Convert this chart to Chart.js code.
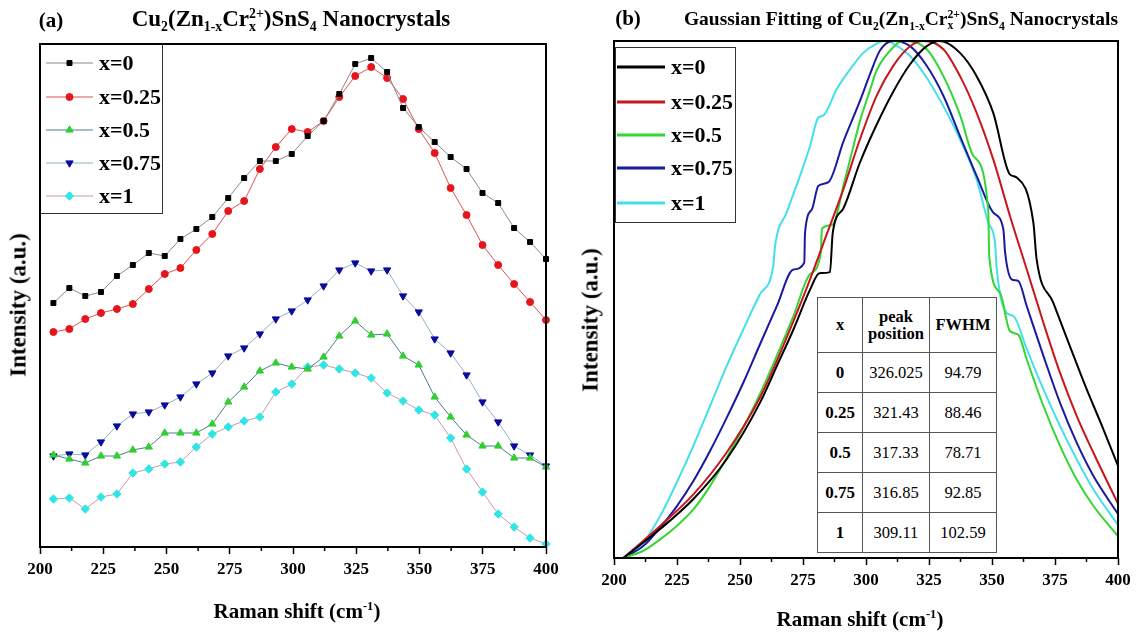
<!DOCTYPE html>
<html>
<head>
<meta charset="utf-8">
<script src="https://cdn.jsdelivr.net/npm/chart.js@4.4.1/dist/chart.umd.min.js"></script>
<style>
  html, body { margin: 0; padding: 0; background: #fff; }
  #wrap { position: relative; width: 1138px; height: 637px; overflow: hidden;
          font-family: "Liberation Serif", "Times New Roman", serif; color: #000; }
  .panel { position: absolute; top: 0; height: 637px; }
  .lbl { position: absolute; font-weight: bold; white-space: nowrap; line-height: 1; }
  .lbl sub, .lbl sup { font-size: 0.6em; line-height: 0; }
  .ss { display: inline-block; vertical-align: -0.38em; font-size: 0.6em; line-height: 0.95; }
  .ss span { display: block; }
  .ytitle { transform: translate(-50%, -50%) rotate(-90deg); }
  .ctr { transform: translate(-50%, -50%); }
  #fit { position: absolute; left: 817px; top: 297px; border-collapse: collapse; background: #fff;
         font-size: 16.5px; text-align: center; }
  #fit td, #fit th { border: 1px solid #555; padding: 0; }
  #fit th { font-weight: bold; height: 54px; line-height: 1.05; }
  #fit td { height: 39px; }
  #fit td.b { font-weight: bold; font-size: 17px; }
</style>
</head>
<body>
<div id="wrap">
  <div class="panel" style="left:0;width:570px"><canvas id="chartA" width="570" height="637"></canvas></div>
  <div class="panel" style="left:570px;width:568px"><canvas id="chartB" width="568" height="637"></canvas></div>

  <div class="lbl ctr" style="left:51px;top:20px;font-size:21px">(a)</div>
  <div class="lbl ctr" style="left:291px;top:20px;font-size:23px">Cu<sub>2</sub>(Zn<sub>1-x</sub>Cr<span class="ss"><span>2+</span><span>x</span></span>)SnS<sub>4</sub> Nanocrystals</div>
  <div class="lbl ctr" style="left:628px;top:18px;font-size:21px">(b)</div>
  <div class="lbl ctr" style="left:901px;top:20px;font-size:19.5px">Gaussian Fitting of Cu<sub>2</sub>(Zn<sub>1-x</sub>Cr<span class="ss"><span>2+</span><span>x</span></span>)SnS<sub>4</sub> Nanocrystals</div>

  <div class="lbl ytitle" style="left:18px;top:305px;font-size:23px">Intensity (a.u.)</div>
  <div class="lbl ytitle" style="left:590px;top:320px;font-size:23px">Intensity (a.u.)</div>
  <div class="lbl ctr" style="left:297px;top:611px;font-size:21px">Raman shift (cm<sup>-1</sup>)</div>
  <div class="lbl ctr" style="left:860px;top:619px;font-size:21px">Raman shift (cm<sup>-1</sup>)</div>

  <table id="fit"></table>
</div>

<script>
// panel (a): measured Raman spectra
const ramanShift = [205.3, 211.6, 217.9, 224.1, 230.4, 236.7, 243.0, 249.3, 255.5, 261.8, 268.1,
  274.4, 280.7, 286.9, 293.2, 299.5, 305.8, 312.1, 318.3, 324.6, 330.9, 337.2, 343.5, 349.7,
  356.0, 362.3, 368.6, 374.9, 381.1, 387.4, 393.7, 400.0];
const intensityX0 = [244, 259, 251, 255, 271, 282, 294, 291, 308, 318, 330, 349, 369, 386, 386, 393,
  411, 426, 453, 483, 489, 475, 439, 420, 405, 390, 378, 354, 344, 319, 305, 288];
const intensityX025 = [215, 218, 228, 234, 238, 243, 258, 273, 279, 297, 313, 336, 346, 378, 400, 418,
  415, 426, 450, 471, 480, 469, 448, 418, 394, 359, 332, 302, 282, 263, 245, 227];
const intensityX05 = [92, 88, 84, 91, 91, 97, 100, 114, 114, 114, 123, 145, 160, 176, 184, 180,
  178, 190, 211, 226, 212, 213, 191, 182, 150, 130, 112, 101, 101, 89, 89, 80];
const intensityX075 = [91, 93, 92, 105, 121, 133, 135, 142, 150, 163, 174, 191, 199, 213, 228, 236,
  247, 261, 277, 284, 276, 277, 251, 235, 208, 194, 172, 145, 125, 101, 92, 81];
const intensityX1 = [48, 49, 38, 50, 53, 74, 78, 83, 85, 100, 113, 120, 126, 130, 155, 163,
  180, 182, 178, 174, 169, 154, 146, 137, 132, 109, 78, 55, 33, 20, 9, 3];

// panel (b): gaussian fits (normalised)
const fitX0 = [203.7, 218.3, 231.5, 244.7, 257.9, 264.6, 271.2, 277.8, 281.5, 285.7, 286.8, 291.0,
  297.6, 304.2, 310.8, 317.5, 324.1, 329.4, 337.3, 343.9, 350.5, 357.1, 359.8, 366.4, 367.7, 374.3,
  380.9, 387.6, 394.2, 400];
const fitY0 = [0, 0.056, 0.114, 0.191, 0.30, 0.371, 0.442, 0.519, 0.551, 0.553, 0.629, 0.676,
  0.765, 0.838, 0.902, 0.955, 0.99, 1.0, 0.977, 0.932, 0.861, 0.742, 0.736, 0.649, 0.578, 0.494,
  0.41, 0.326, 0.249, 0.178];
const fitX025 = [203.7, 218.3, 231.5, 244.7, 257.9, 264.6, 271.2, 277.8, 284.4, 291.0, 297.6, 304.2,
  310.8, 317.5, 322.8, 330.7, 337.3, 343.9, 350.5, 357.1, 363.8, 370.4, 377.0, 383.6, 390.2, 400];
const fitY025 = [0, 0.062, 0.123, 0.204, 0.31, 0.381, 0.458, 0.539, 0.626, 0.713, 0.81, 0.894,
  0.952, 0.99, 1.0, 0.984, 0.932, 0.861, 0.771, 0.662, 0.558, 0.455, 0.358, 0.275, 0.204, 0.105];
const fitX05 = [203.7, 211.6, 218.3, 224.9, 231.5, 238.1, 244.7, 251.3, 257.9, 264.6, 271.2, 277.8,
  282.1, 282.5, 286.5, 291.8, 297.6, 301.6, 304.2, 310.8, 314.8, 324.1, 330.7, 337.3, 342.6, 348.5,
  348.9, 353.2, 357.1, 360.4, 363.8, 370.4, 377.0, 383.6, 390.2, 400];
const fitY05 = [0, 0.014, 0.036, 0.062, 0.094, 0.139, 0.194, 0.252, 0.317, 0.391, 0.468, 0.549,
  0.591, 0.637, 0.644, 0.735, 0.845, 0.905, 0.943, 0.988, 1.0, 0.984, 0.932, 0.857, 0.778, 0.674,
  0.584, 0.513, 0.439, 0.432, 0.384, 0.294, 0.217, 0.152, 0.101, 0.042];
const fitX075 = [203.7, 211.6, 218.3, 224.9, 231.5, 238.1, 244.7, 251.3, 257.9, 264.6, 271.2, 275.5,
  275.8, 278.5, 281.1, 285.1, 291.0, 297.6, 301.6, 305.6, 310.8, 317.5, 324.1, 330.7, 337.3, 343.9,
  350.5, 354.5, 355.2, 357.8, 360.4, 363.8, 370.4, 377.0, 383.6, 390.2, 400];
const fitY075 = [0, 0.023, 0.059, 0.10, 0.149, 0.207, 0.271, 0.339, 0.413, 0.487, 0.558, 0.571,
  0.629, 0.674, 0.72, 0.727, 0.805, 0.884, 0.936, 0.982, 1.0, 0.99, 0.952, 0.894, 0.816, 0.739,
  0.668, 0.636, 0.591, 0.539, 0.536, 0.487, 0.391, 0.30, 0.223, 0.159, 0.085];
const fitX1 = [203.7, 211.6, 218.3, 224.9, 231.5, 238.1, 244.7, 251.3, 257.9, 263.2, 263.9, 268.5,
  273.8, 277.8, 281.1, 283.1, 288.4, 293.7, 298.9, 304.2, 307.5, 310.8, 317.5, 324.1, 330.7, 337.3,
  343.9, 348.5, 351.2, 351.9, 355.8, 358.5, 363.8, 370.4, 377.0, 383.6, 390.2, 400];
const fitY1 = [0, 0.03, 0.081, 0.146, 0.217, 0.294, 0.371, 0.442, 0.51, 0.565, 0.603, 0.668,
  0.739, 0.797, 0.852, 0.856, 0.907, 0.945, 0.977, 0.995, 1.0, 0.995, 0.971, 0.929, 0.874, 0.81,
  0.732, 0.649, 0.61, 0.558, 0.474, 0.468, 0.404, 0.326, 0.255, 0.191, 0.133, 0.064];

// table values
const tableX = ['0', '0.25', '0.5', '0.75', '1'];
const peakPosition = ['326.025', '321.43', '317.33', '316.85', '309.11'];
const fwhm = ['94.79', '88.46', '78.71', '92.85', '102.59'];

const xTicks = [200, 225, 250, 275, 300, 325, 350, 375, 400];
const minorTicks = [212.5, 237.5, 262.5, 287.5, 312.5, 337.5, 362.5, 387.5];

const serif = 'Liberation Serif';

// frame box + minor ticks
const framePlugin = {
    id: 'frame',
    afterDraw(chart) {
        const { ctx, chartArea: a } = chart;
        const x = chart.scales.x;
        ctx.save();
        ctx.strokeStyle = '#000';
        ctx.lineWidth = 2;
        ctx.strokeRect(a.left, a.top, a.right - a.left, a.bottom - a.top);
        ctx.lineWidth = 1.5;
        minorTicks.forEach(v => {
            const px = x.getPixelForValue(v);
            ctx.beginPath();
            ctx.moveTo(px, a.bottom);
            ctx.lineTo(px, a.bottom + 4);
            ctx.stroke();
        });
        ctx.restore();
    }
};

// legend drawn inside the plot, with a box around it
function makeLegend(cfg) {
    return {
        id: 'boxLegend',
        afterDatasetsDraw(chart) {
            const ctx = chart.ctx;
            const [l, t, r, b] = cfg.box;
            ctx.save();
            ctx.fillStyle = '#fff';
            ctx.fillRect(l, t, r - l, b - t);
            ctx.strokeStyle = '#333';
            ctx.lineWidth = 1;
            ctx.strokeRect(l + 0.5, t + 0.5, r - l, b - t);
            chart.data.datasets.forEach((ds, i) => {
                const y = cfg.rows[i];
                ctx.strokeStyle = ds.borderColor;
                ctx.lineWidth = cfg.lineWidth;
                ctx.beginPath();
                ctx.moveTo(cfg.lineX[0], y);
                ctx.lineTo(cfg.lineX[1], y);
                ctx.stroke();
                if (cfg.markers) {
                    ctx.fillStyle = ds.pointBackgroundColor;
                    ctx.strokeStyle = ds.pointBorderColor;
                    ctx.lineWidth = 1;
                    Chart.helpers.drawPoint(ctx, {
                        pointStyle: ds.pointStyle, rotation: ds.pointRotation,
                        radius: ds.pointRadius, borderWidth: 1
                    }, (cfg.lineX[0] + cfg.lineX[1]) / 2, y);
                }
                ctx.fillStyle = '#000';
                ctx.font = 'bold 22px "' + serif + '"';
                ctx.textBaseline = 'middle';
                ctx.textAlign = 'left';
                ctx.fillText(ds.label, cfg.textX, y + 1);
            });
            ctx.restore();
        }
    };
}

function xAxis(height) {
    return {
        type: 'linear', min: 200, max: 400,
        afterBuildTicks: s => { s.ticks = xTicks.map(v => ({ value: v })); },
        ticks: { color: '#000', padding: 5, maxRotation: 0, autoSkip: false,
                 font: { family: serif, weight: 'bold', size: 17 } },
        grid: { display: true, drawOnChartArea: false, drawTicks: true, tickLength: 7,
                tickColor: '#000', tickWidth: 1.5 },
        border: { display: false },
        afterFit: s => { s.height = height; }
    };
}

function yAxis(max, width) {
    return {
        min: 0, max: max,
        ticks: { display: false },
        grid: { display: false },
        border: { display: false },
        afterFit: s => { s.width = width; }
    };
}

const seriesA = [
    { label: 'x=0', values: intensityX0, marker: '#000000', line: '#8a8a8a', style: 'rect', rot: 0, r: 3.5 },
    { label: 'x=0.25', values: intensityX025, marker: '#e8141c', line: '#e05050', style: 'circle', rot: 0, r: 3.5 },
    { label: 'x=0.5', values: intensityX05, marker: '#2fcf2f', line: '#4f7d8c', style: 'triangle', rot: 0, r: 4.2 },
    { label: 'x=0.75', values: intensityX075, marker: '#0a0aa0', line: '#8fb3c0', style: 'triangle', rot: 180, r: 4.2 },
    { label: 'x=1', values: intensityX1, marker: '#2ee6e6', line: '#c39aa8', style: 'rectRot', rot: 0, r: 4.2 }
];

const seriesB = [
    { label: 'x=0', xs: fitX0, ys: fitY0, color: '#000000' },
    { label: 'x=0.25', xs: fitX025, ys: fitY025, color: '#c8161c' },
    { label: 'x=0.5', xs: fitX05, ys: fitY05, color: '#33d633' },
    { label: 'x=0.75', xs: fitX075, ys: fitY075, color: '#1a1aa0' },
    { label: 'x=1', xs: fitX1, ys: fitY1, color: '#44e0e8' }
];

new Chart(document.getElementById('chartA'), {
    type: 'scatter',
    data: {
        datasets: seriesA.map(s => ({
            label: s.label,
            data: ramanShift.map((x, i) => ({ x: x, y: s.values[i] })),
            showLine: true,
            borderColor: s.line,
            borderWidth: 1,
            pointStyle: s.style,
            pointRotation: s.rot,
            pointRadius: s.r,
            pointBackgroundColor: s.marker,
            pointBorderColor: s.marker,
            pointBorderWidth: 1,
            clip: 6
        }))
    },
    options: {
        responsive: false, animation: false, devicePixelRatio: 1,
        layout: { padding: { top: 44, right: 24, left: 0, bottom: 0 } },
        plugins: { legend: { display: false }, tooltip: { enabled: false } },
        scales: { x: xAxis(90), y: yAxis(503, 40) }
    },
    plugins: [framePlugin, makeLegend({
        box: [40, 44, 162, 213], lineX: [46, 93], textX: 99,
        rows: [63, 97, 130, 163, 196], lineWidth: 1, markers: true
    })]
});

new Chart(document.getElementById('chartB'), {
    type: 'scatter',
    data: {
        datasets: seriesB.map(s => ({
            label: s.label,
            data: s.xs.map((x, i) => ({ x: x, y: s.ys[i] })),
            showLine: true,
            borderColor: s.color,
            borderWidth: 2,
            pointRadius: 0,
            cubicInterpolationMode: 'monotone'
        }))
    },
    options: {
        responsive: false, animation: false, devicePixelRatio: 1,
        layout: { padding: { top: 41, right: 20, left: 0, bottom: 0 } },
        plugins: { legend: { display: false }, tooltip: { enabled: false } },
        scales: { x: xAxis(79), y: yAxis(1, 44) }
    },
    plugins: [framePlugin, makeLegend({
        box: [45, 47, 165, 222], lineX: [47, 95], textX: 101,
        rows: [67, 102, 135, 168, 203], lineWidth: 3, markers: false
    })]
});

// fit parameters table
const table = document.getElementById('fit');
let html = '<tr><th style="width:44px">x</th><th style="width:66px">peak<br>position</th><th style="width:66px">FWHM</th></tr>';
tableX.forEach((x, i) => {
    html += '<tr><td class="b">' + x + '</td><td>' + peakPosition[i] + '</td><td>' + fwhm[i] + '</td></tr>';
});
table.innerHTML = html;
</script>
</body>
</html>
